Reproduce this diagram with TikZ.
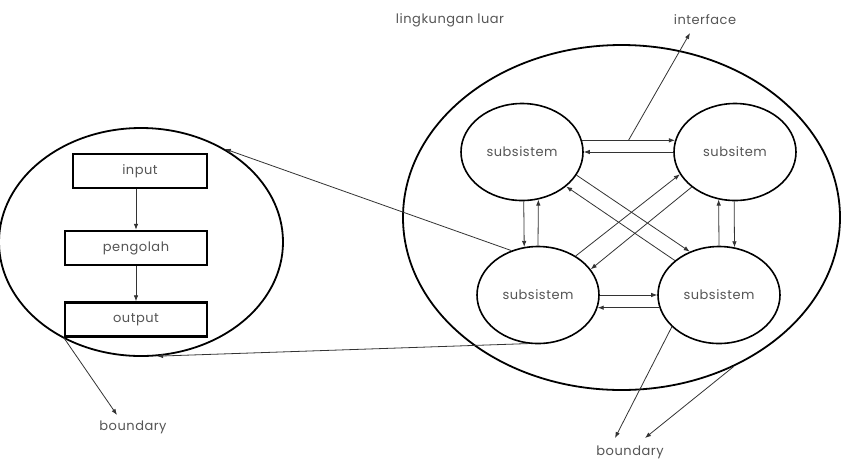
\documentclass[tikz,border=0pt]{standalone}
\usepackage{fontspec}
\setmainfont{Poppins}[LetterSpace=4]
\usetikzlibrary{arrows.meta,shapes.geometric,calc}
\definecolor{txtgray}{HTML}{555555}
\definecolor{lngray}{HTML}{333333}
\tikzset{
  lbl/.style={text=txtgray,font=\fontsize{13}{15}\selectfont,inner sep=0pt},
  sub/.style={ellipse,draw,line width=1.6pt,minimum width=122pt,minimum height=97pt,inner sep=0pt,lbl},
  bigell/.style={ellipse,draw,line width=1.8pt,inner sep=0pt},
  procbox/.style={draw,line width=2.4pt,minimum height=34pt,inner sep=0pt,lbl},
  arr/.style={draw=lngray,line width=0.8pt,-{Latex[length=6pt,width=4.5pt]}}
}
\begin{document}
\begin{tikzpicture}[x=1pt,y=-1pt]
\useasboundingbox[fill=white] (0,0) rectangle (846,459);
% left system
\node[bigell,minimum width=284pt,minimum height=228pt] (sys) at (141,242) {};
\node[procbox,minimum width=134pt] (in) at (140,171) {input};
\node[procbox,minimum width=142pt] (proc) at (136,248) {pengolah};
\node[procbox,minimum width=142pt] (out) at (136,319.5) {output};
\draw[arr] (proc.north |- in.south) -- (proc.north);
\draw[arr] (proc) -- (out);
% right system
\node[bigell,minimum width=437pt,minimum height=345pt] (env) at (621.5,217.5) {};
\node[sub] (tl) at (522,152) {subsistem};
\node[sub] (tr) at (735,152) {subsitem};
\node[sub] (bl) at (538,295) {subsistem};
\node[sub] (br) at (719,295) {subsistem};
% labels
\node[lbl] (env lbl) at (450,20) {lingkungan luar};
\node[lbl] (ifc lbl) at (705,20) {interface};
\node[lbl] (bnd l) at (133,427) {boundary};
\node[lbl] (bnd r) at (630,452) {boundary};
% horizontal
\draw[arr] (tl.11) -- (tr.169);
\draw[arr] (tr.west) -- (tl.east);
\draw[arr] (bl.east) -- (br.west);
\draw[arr] (br.192) -- (bl.348);
% vertical
\draw[arr] (tl.272) -- (bl.106);
\draw[arr] (bl.north) -- (tl.289);
\draw[arr] (br.north) -- (tr.251);
\draw[arr] (tr.269) -- (br.72);
% diagonals
\draw[arr] (tl.337) -- (br.124);
\draw[arr] (br.142) -- (tl.322);
\draw[arr] (bl.46) -- (tr.202);
\draw[arr] (tr.219) -- (bl.26);
% interface
\coordinate (ifc) at ($(tl.11)!0.5!(tr.169)$);
\coordinate (ifcend) at (690,33);
\draw[arr] (ifc) -- (ifcend);
% to left system
\draw[arr] (bl.121) -- (sys.48);
\draw[arr] (bl.258) -- (sys.278);
% boundaries
\coordinate (bl end) at (117,415);
\draw[arr] (out.south west) -- (bl end);
\coordinate (br end1) at (615,438);
\coordinate (br end2) at (645,438);
\draw[arr] (br.214) -- (br end1);
\draw[arr] (env.307) -- (br end2);
\end{tikzpicture}
\end{document}
